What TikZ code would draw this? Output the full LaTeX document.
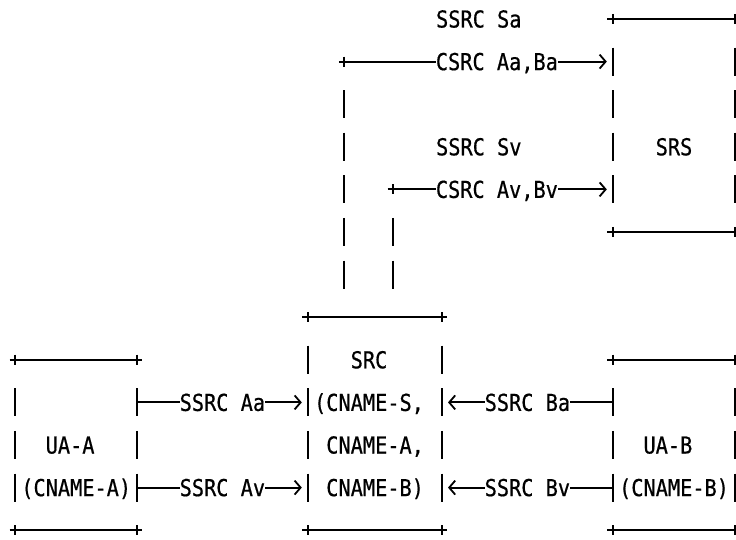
\documentclass[tikz,border=0pt]{standalone}
\usepackage{fontspec}
\newfontfamily\asciifont[FakeStretch=0.87,FakeBold=0.6]{DejaVu Sans Mono}
\usetikzlibrary{arrows.meta}
\newcommand\af{\asciifont\fontsize{23.3pt}{24pt}\selectfont}
\tikzset{
  ln/.style={line width=2pt, line cap=butt},
  arr/.style={ln, -{Straight Barb[length=6pt,width=14pt,line width=1.8pt]}, shorten >=6pt},
  lbl/.style={fill=white, inner sep=0pt, text height=17pt, text depth=0pt, font=\af},
  txt/.style={inner sep=0pt, anchor=base west, yshift=-8.5pt, font=\af},
}
% an ASCII-style box: name, c1, r1, c2, r2
\newcommand\abox[5]{%
  \coordinate (#1-nw) at (#2,#3);
  \coordinate (#1-se) at (#4,#5);
  \draw[ln] (#2-0.45,#3) -- (#4+0.45,#3);
  \draw[ln] (#2-0.45,#5) -- (#4+0.45,#5);
  \pgfmathtruncatemacro\ra{#3+1}%
  \pgfmathtruncatemacro\rb{#5-1}%
  \foreach \c in {#2,#4}{%
    \foreach \r in {#3,#5}{\draw[ln] (\c,\r-0.12) -- (\c,\r+0.12);}
    \foreach \r in {\ra,...,\rb}{\draw[ln] (\c,\r-0.33) -- (\c,\r+0.33);}
  }%
}
\newcommand\pipes[3]{% col, first row, last row
  \foreach \r in {#2,...,#3}{\draw[ln] (#1,\r-0.33) -- (#1,\r+0.33);}%
}
\newcommand\plusmark[1]{\draw[ln] ([yshift=5pt]#1) -- ([yshift=-5pt]#1);}
\begin{document}
\begin{tikzpicture}
\useasboundingbox (0,0) rectangle (736pt,-540pt);
\begin{scope}[shift={(15pt,-19pt)}, x=12.2pt, y=-42.6pt]
  % boxes
  \abox{srs}{49}{0}{59}{5}
  \abox{src}{24}{7}{35}{12}
  \abox{uaa}{0}{8}{10}{12}
  \abox{uab}{49}{8}{59}{12}
  % connector end points
  \coordinate (mixa) at (27,1);
  \coordinate (mixv) at (31,4);
  \coordinate (srs-a) at (49,1);
  \coordinate (srs-v) at (49,4);
  \coordinate (uaa-a) at (10,9);
  \coordinate (uaa-v) at (10,11);
  \coordinate (src-wa) at (24,9);
  \coordinate (src-wv) at (24,11);
  \coordinate (src-ea) at (35,9);
  \coordinate (src-ev) at (35,11);
  \coordinate (uab-a) at (49,9);
  \coordinate (uab-v) at (49,11);
  % mixed streams from SRC up to SRS
  \plusmark{mixa}
  \plusmark{mixv}
  \pipes{27}{2}{6}
  \pipes{31}{5}{6}
  \draw[arr] ([xshift=-5.5pt]mixa) -- node[lbl,pos=0.5768] (csa) {CSRC Aa,Ba} (srs-a);
  \draw[arr] ([xshift=-5.5pt]mixv) -- node[lbl,pos=0.4851] (csv) {CSRC Av,Bv} (srs-v);
  % streams into SRC
  \draw[arr] (uaa-a) -- node[lbl] (saa) {SSRC Aa} (src-wa);
  \draw[arr] (uaa-v) -- node[lbl] (sav) {SSRC Av} (src-wv);
  \draw[arr] (uab-a) -- node[lbl] (sba) {SSRC Ba} (src-ea);
  \draw[arr] (uab-v) -- node[lbl] (sbv) {SSRC Bv} (src-ev);
  % texts
  \node[txt] (ssa) at (34.5,0) {SSRC Sa};
  \node[txt] (ssv) at (34.5,3) {SSRC Sv};
  \node[txt] (srsl) at (52.5,3) {SRS};
  \node[txt] (srcl) at (27.5,8) {SRC};
  \node[txt] (src1) at (24.5,9) {(CNAME-S,};
  \node[txt] (src2) at (25.5,10) {CNAME-A,};
  \node[txt] (src3) at (25.5,11) {CNAME-B)};
  \node[txt] (uaal) at (2.5,10) {UA-A};
  \node[txt] (uaac) at (0.5,11) {(CNAME-A)};
  \node[txt] (uabl) at (51.5,10) {UA-B};
  \node[txt] (uabc) at (49.5,11) {(CNAME-B)};
\end{scope}
\end{tikzpicture}
\end{document}
